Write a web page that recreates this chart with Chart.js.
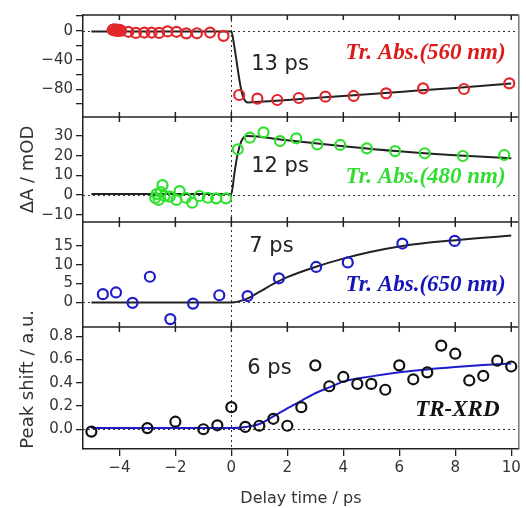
<!DOCTYPE html>
<html>
<head>
<meta charset="utf-8">
<script src="https://cdn.jsdelivr.net/npm/chart.js@4.4.1/dist/chart.umd.min.js"></script>
<style>
  html, body { margin: 0; padding: 0; background: #fff; }
  #chart { display: block; }
</style>
</head>
<body>
<canvas id="chart" width="526" height="508"></canvas>
<script>
// Data
const delayTicks = [-4, -2, 0, 2, 4, 6, 8, 10];

// Tr. Abs. 560 nm (red)
const abs560X = [-4.24, -4.19, -4.14, -4.09, -4.04, -3.99, -3.94, -3.68, -3.41, -3.11, -2.85, -2.58, -2.28, -1.96, -1.61, -1.23, -0.76, -0.28,
                 0.28, 0.93, 1.64, 2.41, 3.36, 4.37, 5.53, 6.85, 8.31, 9.93];
const abs560Y = [1, 2, 0, 1.5, -0.5, 1, 0, -1.5, -3, -2.5, -2.5, -3, -1, -1.5, -3.6, -3.5, -2.5, -7,
                 -87.7, -92.7, -94.5, -91.8, -90, -89, -85.4, -78.6, -79.5, -71.8];
const abs560FitX = [-5, 0, 0.1, 0.2, 0.3, 0.4, 0.5, 0.6, 1, 2, 4, 6, 8, 10];
const abs560FitY = [-1, -1, -20, -45, -70, -88, -96, -98, -97, -94.5, -89, -83.5, -78, -72];
const abs560Ticks = [-100, -80, -60, -40, -20, 0, 20];
const abs560Labels = [-80, -40, 0];

// Tr. Abs. 480 nm (green)
const abs480X = [-2.72, -2.67, -2.6, -2.52, -2.46, -2.38, -2.2, -1.96, -1.85, -1.63, -1.4, -1.14, -0.84, -0.54, -0.19,
                 0.23, 0.66, 1.15, 1.74, 2.32, 3.07, 3.89, 4.84, 5.85, 6.91, 8.27, 9.75];
const abs480Y = [-1.5, 0.5, -2.5, 1.5, 5, -0.5, -0.8, -2.5, 2, -1.4, -3.9, -0.5, -1.4, -1.7, -1.7,
                 23.2, 29.1, 31.8, 27.4, 28.8, 25.7, 25.4, 23.7, 22.3, 21.2, 19.8, 20.3];
const abs480FitX = [-5, 0, 0.1, 0.2, 0.3, 0.4, 0.55, 0.8, 2, 3, 4, 6, 8, 10];
const abs480FitY = [0.5, 0.5, 10, 19, 25, 28.5, 30, 29.8, 27.8, 26.3, 24.8, 22.2, 20.2, 18.6];
const abs480Ticks = [-10, 0, 10, 20, 30];

// Tr. Abs. 650 nm (blue)
const abs650X = [-4.59, -4.12, -3.53, -2.91, -2.18, -1.37, -0.43, 0.58, 1.70, 3.03, 4.16, 6.11, 7.98];
const abs650Y = [2.2, 2.65, -0.1, 6.8, -4.4, -0.3, 1.9, 1.7, 6.4, 9.4, 10.6, 15.6, 16.3];
const abs650FitX = [-5, 0, 0.5, 1, 1.5, 2, 3, 4, 5, 6, 7, 8, 9, 10];
const abs650FitY = [0, 0, 0.8, 2.8, 4.9, 6.7, 9.4, 11.6, 13.4, 14.8, 15.8, 16.5, 17.1, 17.7];
const abs650Ticks = [0, 5, 10, 15];

// TR-XRD peak shift (black circles, blue fit)
const xrdX = [-5, -3, -2, -1, -0.5, 0, 0.5, 1, 1.5, 2, 2.5, 3, 3.5, 4, 4.5, 5, 5.5, 6, 6.5, 7, 7.5, 8, 8.5, 9, 9.5, 10];
const xrdY = [-0.02, 0.01, 0.065, 0.0, 0.034, 0.19, 0.02, 0.03, 0.09, 0.03, 0.19, 0.55, 0.37, 0.45, 0.39, 0.39, 0.34,
              0.55, 0.43, 0.49, 0.72, 0.65, 0.42, 0.46, 0.59, 0.54];
const xrdFitX = [-5, 0, 0.5, 1, 1.5, 2, 2.5, 3, 3.5, 4, 5, 6, 7, 8, 9, 10];
const xrdFitY = [0.01, 0.01, 0.02, 0.045, 0.11, 0.18, 0.245, 0.31, 0.36, 0.41, 0.455, 0.49, 0.515, 0.535, 0.552, 0.566];
const xrdTicks = [0, 0.2, 0.4, 0.6, 0.8];

// Colors / fonts
const RED = '#e3262b';
const GREEN = '#2fe02f';
const BLUE = '#1d1dcc';
const INK = '#222';
const SANS = "'DejaVu Sans', sans-serif";
const SERIF = "'Liberation Serif', 'Times New Roman', serif";

function pts(xs, ys) {
    return xs.map((x, i) => ({ x: x, y: ys[i] }));
}

function minus(v) {
    return String(v).replace('-', '\u2212');
}

function circles(xs, ys, color, axis) {
    return {
        data: pts(xs, ys),
        yAxisID: axis,
        showLine: false,
        pointStyle: 'circle',
        pointRadius: 5,
        pointBorderWidth: 2.2,
        pointBorderColor: color,
        pointBackgroundColor: 'rgba(0,0,0,0)'
    };
}

function fit(xs, ys, color, axis) {
    return {
        data: pts(xs, ys),
        yAxisID: axis,
        borderColor: color,
        borderWidth: 2,
        pointRadius: 0,
        cubicInterpolationMode: 'monotone'
    };
}

function panelAxis(min, max, weight, tickList, fmt) {
    return {
        type: 'linear',
        position: 'left',
        stack: 'panels',
        stackWeight: weight,
        min: min,
        max: max,
        afterBuildTicks: scale => { scale.ticks = tickList.map(v => ({ value: v })); },
        afterFit: scale => { scale.width = 83; },
        grid: { drawOnChartArea: false, tickLength: 7, color: INK, lineWidth: 1.3 },
        border: { color: INK, width: 1.5 },
        ticks: { color: '#333', padding: 3, autoSkip: false, font: { family: SANS, size: 15 }, callback: fmt }
    };
}

// Annotation texts, placed in data coordinates of each panel
const notes = [
    { axis: 'y1', x: 0.71, y: -46.8, text: '13 ps', align: 'left', color: INK, font: '21px ' + SANS },
    { axis: 'y1', x: 9.8, y: -30.4, text: 'Tr. Abs.(560 nm)', align: 'right', color: '#dd1a1a', font: 'italic bold 23px ' + SERIF },
    { axis: 'y2', x: 0.71, y: 14.2, text: '12 ps', align: 'left', color: INK, font: '21px ' + SANS },
    { axis: 'y2', x: 9.8, y: 9.1, text: 'Tr. Abs.(480 nm)', align: 'right', color: '#33dd33', font: 'italic bold 23px ' + SERIF },
    { axis: 'y3', x: 0.64, y: 14.7, text: '7 ps', align: 'left', color: INK, font: '21px ' + SANS },
    { axis: 'y3', x: 9.8, y: 4.6, text: 'Tr. Abs.(650 nm)', align: 'right', color: '#1515b8', font: 'italic bold 23px ' + SERIF },
    { axis: 'y4', x: 0.57, y: 0.526, text: '6 ps', align: 'left', color: INK, font: '21px ' + SANS },
    { axis: 'y4', x: 9.58, y: 0.166, text: 'TR-XRD', align: 'right', color: '#111', font: 'italic bold 23px ' + SERIF }
];

const panelIds = ['y1', 'y2', 'y3', 'y4'];

// Frames, dotted zero lines, boundary ticks and texts
const panelDecor = {
    id: 'panelDecor',
    beforeDatasetsDraw(chart) {
        const { ctx, chartArea, scales } = chart;
        ctx.save();
        ctx.strokeStyle = '#333';
        ctx.lineWidth = 1;
        ctx.setLineDash([2, 3]);
        panelIds.forEach(id => {
            const y = Math.round(scales[id].getPixelForValue(0)) + 0.5;
            ctx.beginPath();
            ctx.moveTo(chartArea.left, y);
            ctx.lineTo(chartArea.right, y);
            ctx.stroke();
        });
        const x0 = Math.round(scales.x.getPixelForValue(0)) + 0.5;
        ctx.beginPath();
        ctx.moveTo(x0, chartArea.top);
        ctx.lineTo(x0, chartArea.bottom);
        ctx.stroke();
        ctx.restore();
    },
    afterDatasetsDraw(chart) {
        const { ctx, chartArea, scales } = chart;
        ctx.save();
        ctx.strokeStyle = INK;
        ctx.lineWidth = 1.5;
        panelIds.forEach((id, i) => {
            const top = scales[id].top;
            ctx.beginPath();
            ctx.moveTo(chartArea.left, top);
            ctx.lineTo(chartArea.right, top);
            ctx.stroke();
            // x ticks on each panel's top edge
            delayTicks.forEach(v => {
                const x = scales.x.getPixelForValue(v);
                ctx.beginPath();
                ctx.moveTo(x, i === 0 ? top : top - 5);
                ctx.lineTo(x, top + 5);
                ctx.stroke();
            });
        });
        ctx.strokeStyle = '#777';
        ctx.beginPath();
        ctx.moveTo(chartArea.right, chartArea.top);
        ctx.lineTo(chartArea.right, chartArea.bottom);
        ctx.stroke();

        notes.forEach(n => {
            ctx.font = n.font;
            ctx.fillStyle = n.color;
            ctx.textAlign = n.align;
            ctx.textBaseline = 'middle';
            ctx.fillText(n.text, scales.x.getPixelForValue(n.x), scales[n.axis].getPixelForValue(n.y));
        });

        // y axis titles
        ctx.fillStyle = '#333';
        ctx.font = '18px ' + SANS;
        ctx.textAlign = 'center';
        ctx.textBaseline = 'middle';
        [['\u0394A / mOD', (scales.y2.top + scales.y2.bottom) / 2],
         ['Peak shift / a.u.', scales.y4.getPixelForValue(0.43)]].forEach(([t, cy]) => {
            ctx.save();
            ctx.translate(28, cy);
            ctx.rotate(-Math.PI / 2);
            ctx.fillText(t, 0, 0);
            ctx.restore();
        });
        ctx.restore();
    }
};

const chart = new Chart(document.getElementById('chart'), {
    type: 'line',
    data: {
        datasets: [
            circles(abs560X, abs560Y, RED, 'y1'),
            fit(abs560FitX, abs560FitY, INK, 'y1'),
            circles(abs480X, abs480Y, GREEN, 'y2'),
            fit(abs480FitX, abs480FitY, INK, 'y2'),
            circles(abs650X, abs650Y, BLUE, 'y3'),
            fit(abs650FitX, abs650FitY, INK, 'y3'),
            circles(xrdX, xrdY, '#111', 'y4'),
            fit(xrdFitX, xrdFitY, BLUE, 'y4')
        ]
    },
    options: {
        responsive: false,
        animation: false,
        layout: { padding: { top: 15, right: 4, left: 0, bottom: 0 } },
        plugins: { legend: { display: false }, tooltip: { enabled: false } },
        scales: {
            x: {
                type: 'linear',
                position: 'bottom',
                min: -5.3,
                max: 10.27,
                afterBuildTicks: scale => { scale.ticks = delayTicks.map(v => ({ value: v })); },
                afterFit: scale => { scale.height = 59; },
                grid: { drawOnChartArea: false, tickLength: 7, color: INK, lineWidth: 1.3 },
                border: { color: INK, width: 1.5 },
                ticks: { color: '#333', padding: 3, autoSkip: false, maxRotation: 0, font: { family: SANS, size: 15 }, callback: v => minus(v) },
                title: { display: true, text: 'Delay time / ps', color: '#333', padding: 0, font: { family: SANS, size: 16 } }
            },
            // left stacks are placed top-down from the last defined axis
            y4: panelAxis(-0.17, 0.88, 122, xrdTicks, v => v.toFixed(1)),
            y3: panelAxis(-6.5, 21.3, 105, abs650Ticks, v => minus(v)),
            y2: panelAxis(-13.7, 39.6, 105, abs480Ticks, v => minus(v)),
            y1: panelAxis(-117.7, 21.4, 102, abs560Ticks, v => abs560Labels.includes(v) ? minus(v) : '')
        }
    },
    plugins: [panelDecor]
});
</script>
</body>
</html>
